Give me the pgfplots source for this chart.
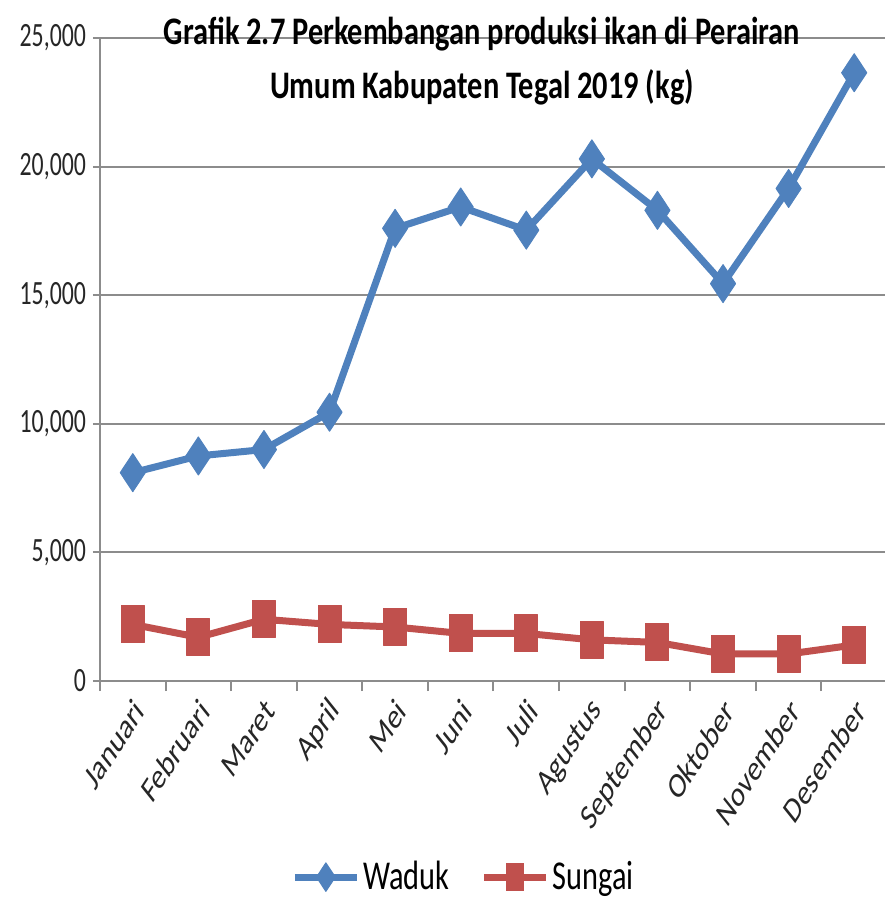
\documentclass[border=0pt]{standalone}
\usepackage{fontspec}
\setmainfont{Carlito}[FakeStretch=0.7]
\newfontfamily\titlefont{Carlito}[FakeStretch=0.78]
\newfontfamily\legfont{Carlito}[FakeStretch=0.74]
\newfontfamily\plainfont{Carlito}
\usepackage{pgfplots}
\pgfplotsset{compat=1.18}
\definecolor{wblue}{HTML}{4F81BD}
\definecolor{sred}{HTML}{C0504D}
\definecolor{gridgray}{HTML}{8C8C8C}
\begin{document}
\begin{tikzpicture}
\begin{axis}[
  name=ax,
  at={(0,0)}, anchor=south west,
  scale only axis, width=393.5pt, height=321.5pt,
  xmin=-0.5, xmax=11.5, ymin=0, ymax=25000,
  axis x line*=bottom, axis y line*=left,
  axis line style={gridgray, line width=1pt},
  ytick={0,5000,...,25000},
  ymajorgrids, grid style={gridgray, line width=1pt},
  scaled y ticks=false,
  /pgf/number format/.cd, 1000 sep={,}, assume math mode=true, /pgfplots/.cd,
  xtick={0,...,11},
  xticklabels={Januari,Februari,Maret,April,Mei,Juni,Juli,Agustus,September,Oktober,November,Desember},
  minor xtick={-0.5,0.5,...,11.5},
  major x tick style={draw=none},
  minor x tick style={gridgray, line width=1pt},
  y tick style={gridgray, line width=1pt},
  tick align=outside,
  major tick length=3.5pt, minor tick length=5pt,
  yticklabel style={font=\fontsize{17}{20}\selectfont, text=black!85},
  xticklabel style={font=\plainfont\fontsize{18}{21}\selectfont, text=black!85, anchor=east, xscale=0.72, rotate=48, yshift=-9pt},
  legend style={at={(0.4625,-0.305)}, anchor=center, draw=none, legend columns=2,
    font=\legfont\fontsize{20.5}{24}\selectfont, nodes={inner xsep=1.5pt},
    /tikz/every even column/.append style={column sep=14pt}},
  legend image code/.code={\draw[#1, every mark/.append style={scale=0.75}, mark repeat=2, mark phase=2] plot coordinates {(0pt,0pt) (15.5pt,0pt) (31pt,0pt)};},
  clip=false,
]
\addplot[wblue, line width=3.5pt, line join=round, mark=diamond*,
  mark options={solid, fill=wblue, draw=wblue, line width=0.5pt, mark size=9.5pt, xscale=0.88}]
  coordinates {(0,8100) (1,8750) (2,9000) (3,10450) (4,17600) (5,18430) (6,17530) (7,20300) (8,18300) (9,15450) (10,19150) (11,23650)};
\addlegendentry{Waduk}
\addplot[sred, line width=3.5pt, line join=round, mark=square*,
  mark options={solid, fill=sred, draw=sred, line width=0.5pt, mark size=9.25pt, xscale=0.62}]
  coordinates {(0,2200) (1,1700) (2,2400) (3,2200) (4,2100) (5,1850) (6,1850) (7,1600) (8,1500) (9,1050) (10,1050) (11,1400)};
\addlegendentry{Sungai}
\end{axis}
\node[anchor=base, font=\titlefont\bfseries\fontsize{19.5}{23}\selectfont] at ([xshift=-5.75pt,yshift=-3pt]ax.north) {Grafik 2.7 Perkembangan produksi ikan di Perairan};
\node[anchor=base, font=\titlefont\bfseries\fontsize{19.5}{23}\selectfont] at ([xshift=-5.75pt,yshift=-30pt]ax.north) {Umum Kabupaten Tegal 2019 (kg)};
\pgfresetboundingbox
\path (-50pt,-110.5pt) rectangle (392.5pt,340.5pt);
\end{tikzpicture}
\end{document}
